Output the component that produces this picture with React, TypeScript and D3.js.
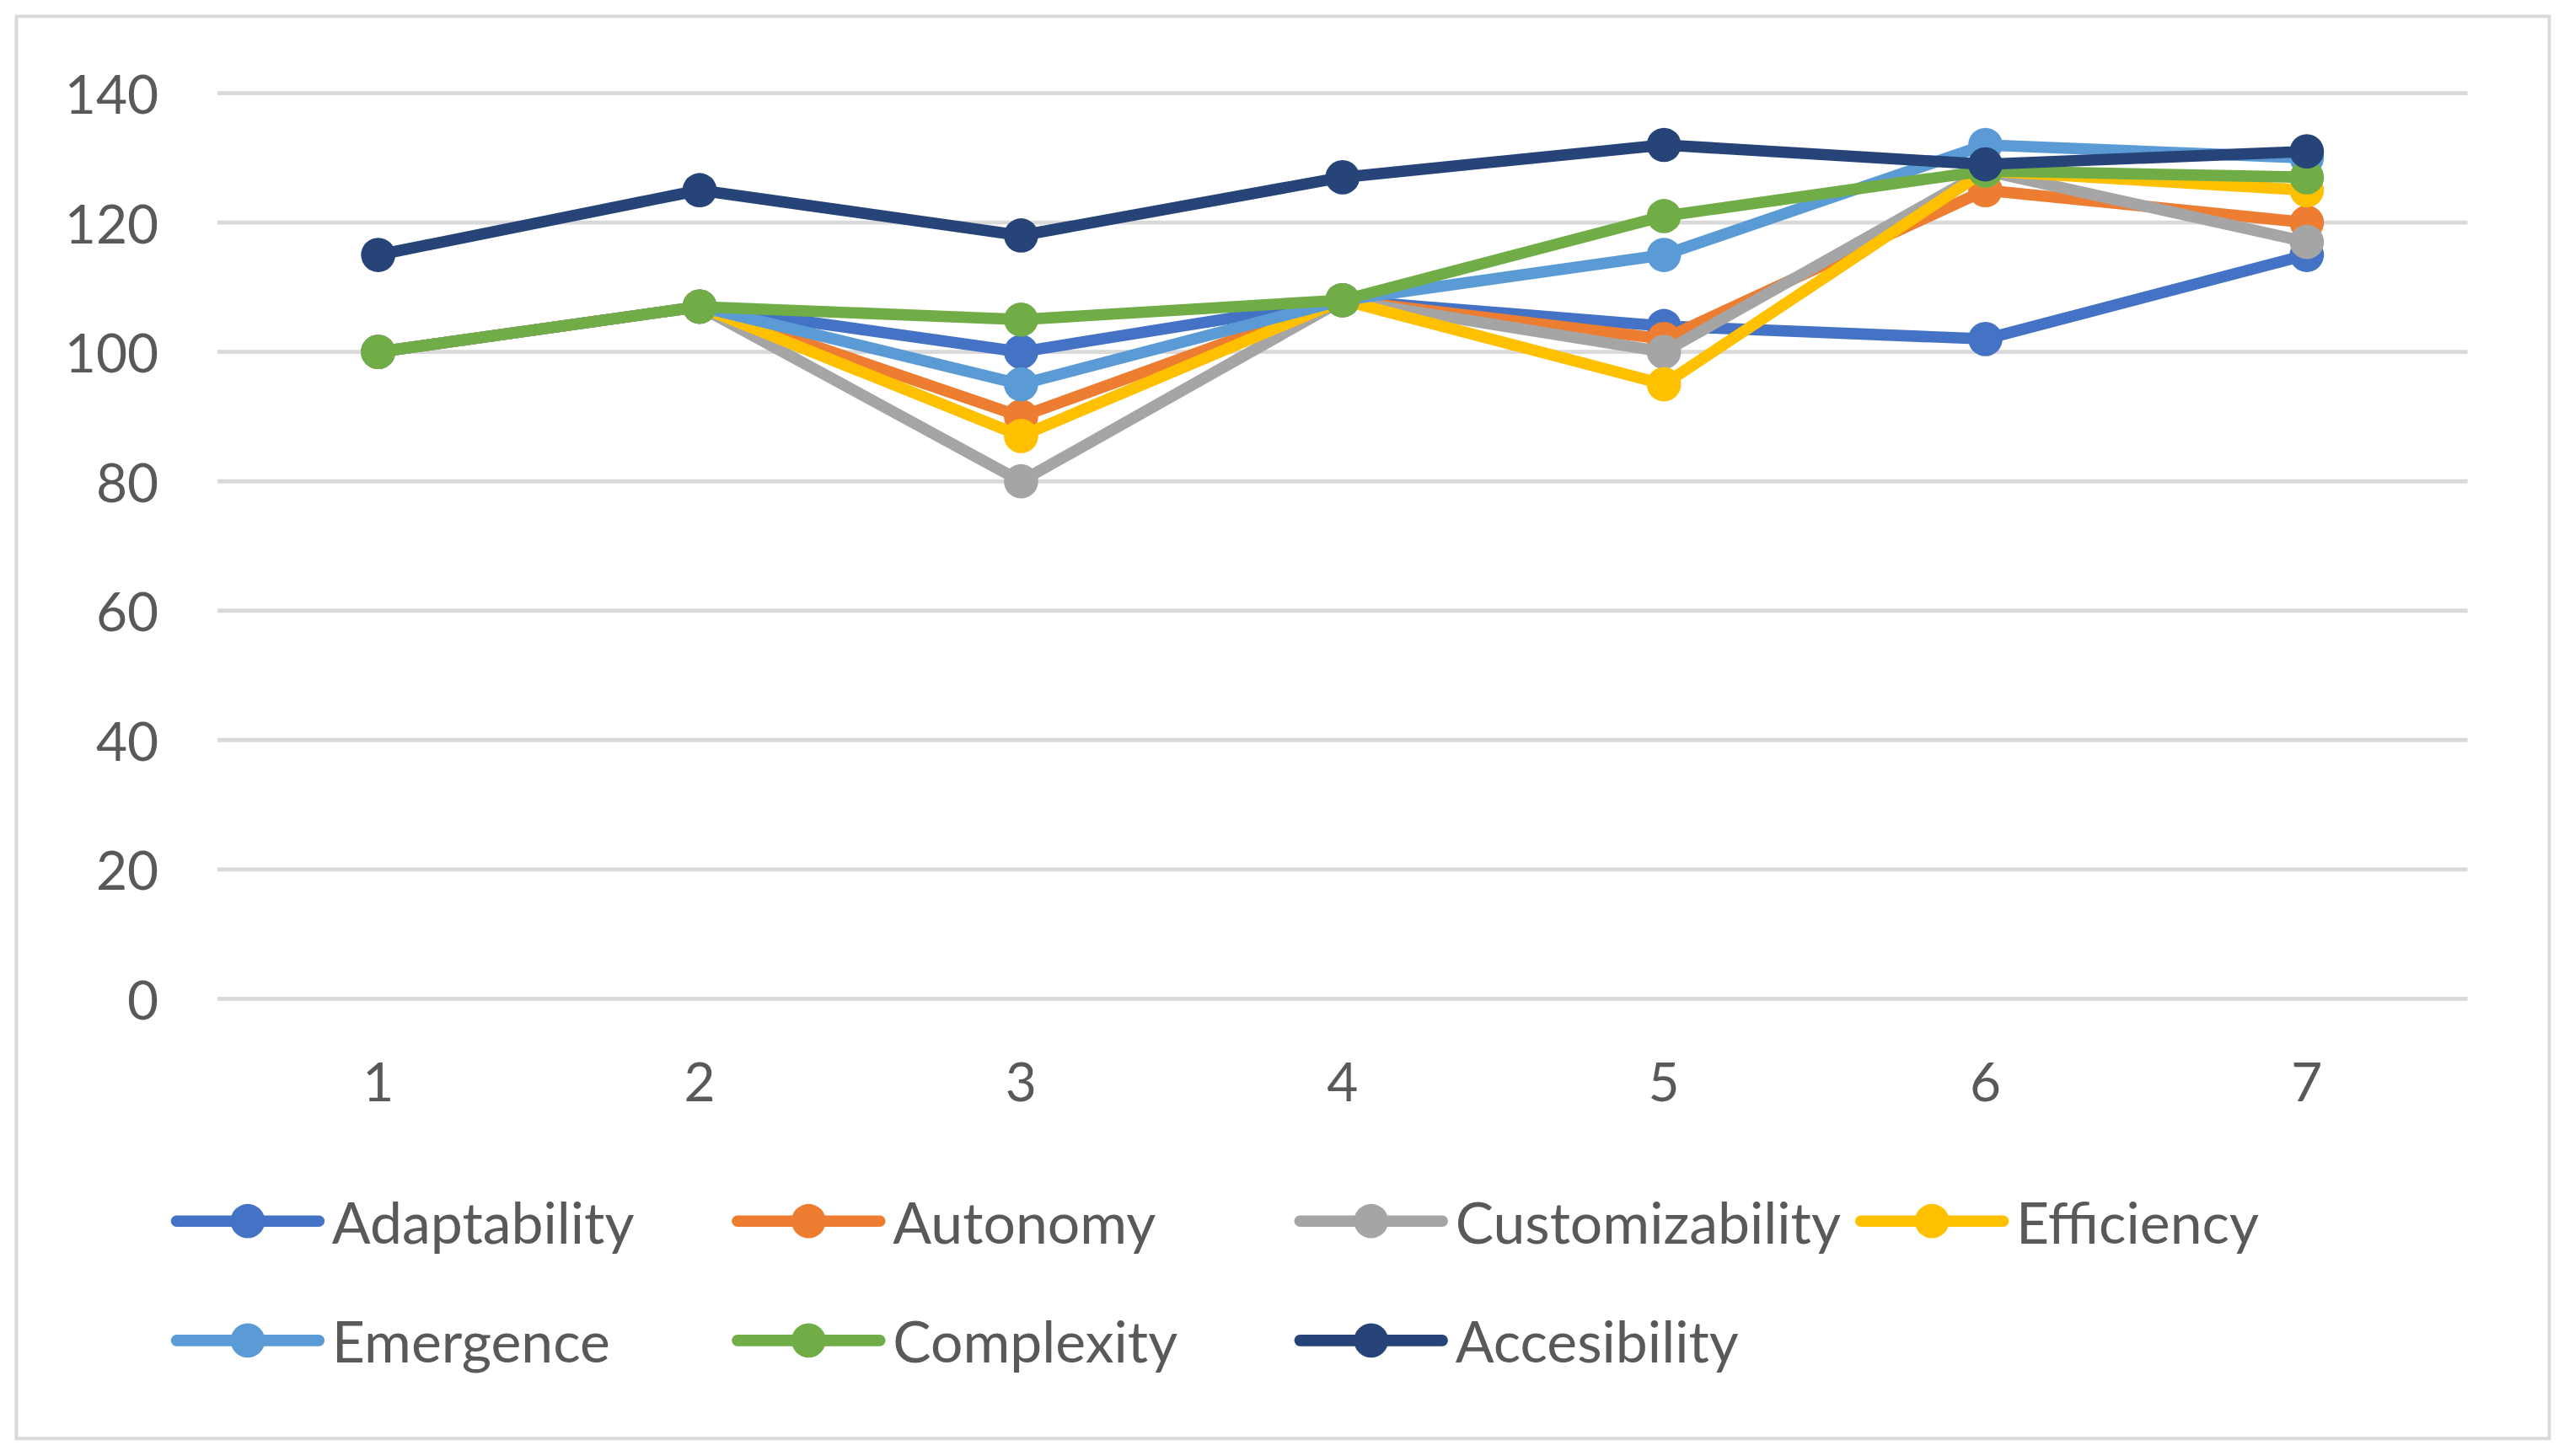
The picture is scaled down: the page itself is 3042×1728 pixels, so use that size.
import * as d3 from "d3";

const categories = ["1", "2", "3", "4", "5", "6", "7"];
const seriesNames = [
  "Adaptability",
  "Autonomy",
  "Customizability",
  "Efficiency",
  "Emergence",
  "Complexity",
  "Accesibility",
];
const seriesColors = ["#4472C4", "#ED7D31", "#A5A5A5", "#FFC000", "#5B9BD5", "#70AD47", "#264478"];

const adaptability = [100, 107, 100, 108, 104, 102, 115];
const autonomy = [100, 107, 90, 108, 102, 125, 120];
const customizability = [100, 107, 80, 108, 100, 128, 117];
const efficiency = [100, 107, 87, 108, 95, 128, 125];
const emergence = [100, 107, 95, 108, 115, 132, 130];
const complexity = [100, 107, 105, 108, 121, 128, 127];
const accesibility = [115, 125, 118, 127, 132, 129, 131];

const yTicks = [0, 20, 40, 60, 80, 100, 120, 140];

const W = 1568;
const H = 890.7;
const font = "Lato, 'Open Sans', sans-serif";

export default function App() {
  const values = [adaptability, autonomy, customizability, efficiency, emergence, complexity, accesibility];
  const x = d3.scaleBand<string>().domain(categories).range([133, 1509]);
  const y = d3.scaleLinear().domain([0, 140]).range([611, 57]);
  const line = d3
    .line<number>()
    .x((_, i) => (x(categories[i]) ?? 0) + x.bandwidth() / 2)
    .y((d) => y(d));

  const legendCols = [108, 451, 795, 1138];
  const legendRows = [747, 820];

  return (
    <svg
      width={3042}
      height={1728}
      viewBox={`0 0 ${W} ${H}`}
      style={{ position: "absolute", left: 0, top: 0, background: "#fff" }}
    >
      <rect x={0} y={0} width={W} height={H} fill="#fff" />
      <rect x={10} y={10} width={1549} height={870} fill="none" stroke="#D9D9D9" strokeWidth={2} />

      {yTicks.map((t) => (
        <g key={t}>
          <line x1={133} x2={1509} y1={y(t)} y2={y(t)} stroke="#D9D9D9" strokeWidth={2.5} />
          <text
            x={97}
            y={y(t)}
            textAnchor="end"
            dominantBaseline="central"
            fontFamily={font}
            fontSize={33}
            fill="#595959"
          >
            {t}
          </text>
        </g>
      ))}

      {categories.map((c) => (
        <text
          key={c}
          x={(x(c) ?? 0) + x.bandwidth() / 2}
          y={661}
          textAnchor="middle"
          dominantBaseline="central"
          fontFamily={font}
          fontSize={33}
          fill="#595959"
        >
          {c}
        </text>
      ))}

      {values.map((vals, si) => (
        <g key={seriesNames[si]}>
          <path
            d={line(vals) ?? ""}
            fill="none"
            stroke={seriesColors[si]}
            strokeWidth={7}
            strokeLinejoin="round"
            strokeLinecap="round"
          />
          {vals.map((v, i) => (
            <circle
              key={i}
              cx={(x(categories[i]) ?? 0) + x.bandwidth() / 2}
              cy={y(v)}
              r={10.5}
              fill={seriesColors[si]}
            />
          ))}
        </g>
      ))}

      {seriesNames.map((name, i) => {
        const lx = legendCols[i % 4];
        const ly = legendRows[Math.floor(i / 4)];
        return (
          <g key={name} transform={`translate(${lx},${ly})`}>
            <line x1={0} x2={87} y1={0} y2={0} stroke={seriesColors[i]} strokeWidth={7} strokeLinecap="round" />
            <circle cx={43.5} cy={0} r={10.5} fill={seriesColors[i]} />
            <text
              x={95}
              y={0}
              dominantBaseline="central"
              fontFamily={font}
              fontSize={35}
              fill="#595959"
            >
              {name}
            </text>
          </g>
        );
      })}
    </svg>
  );
}
